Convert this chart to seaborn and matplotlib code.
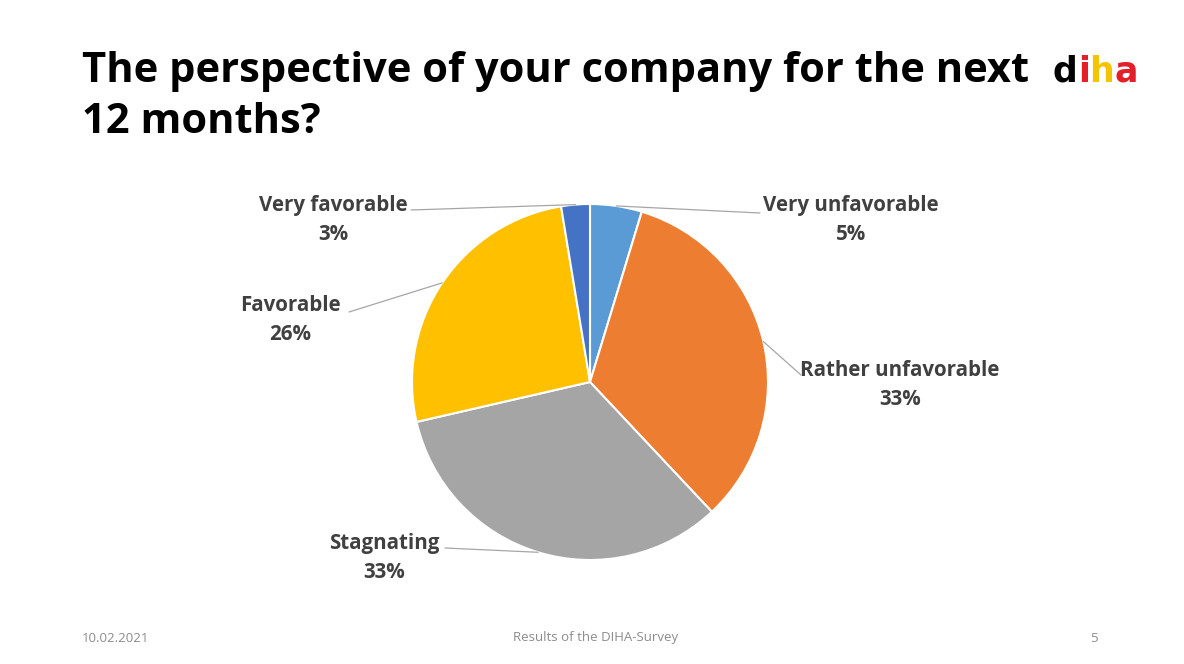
import matplotlib.pyplot as plt
import seaborn as sns
import numpy as np

# Dados
categorias = ["Very unfavorable", "Rather unfavorable", "Stagnating", "Favorable", "Very favorable"]
valores = [4.7, 33.3, 33.4, 26.0, 2.6]
cores = ["#5B9BD5", "#ED7D31", "#A5A5A5", "#FFC000", "#4472C4"]

# Posições dos rótulos (pixels) e fim das linhas de chamada
rotulo_pos = [(851, 220), (900, 385), (384, 558), (290, 320), (333, 220)]
linha_fim = [(760, 213), (801, 375), (445, 548), (349, 312), (411, 210)]

sns.set_theme(style="white")
plt.rcParams["font.family"] = ["Open Sans", "DejaVu Sans"]

W, H = 1184, 664
fig = plt.figure(figsize=(W / 100, H / 100), dpi=100)

cx, cy, r = 590, 382, 178
ax = fig.add_axes([(cx - r) / W, 1 - (cy + r) / H, 2 * r / W, 2 * r / H])
wedges, _ = ax.pie(valores, colors=cores, startangle=90, counterclock=False,
                   radius=1, wedgeprops=dict(edgecolor="white", linewidth=1.5))
ax.set_xlim(-1, 1)
ax.set_ylim(-1, 1)
ax.set_aspect("equal")
ax.axis("off")


def to_data(px, py):
    return (px - cx) / r, (cy - py) / r


for w, nome, v, tp, lf in zip(wedges, categorias, valores, rotulo_pos, linha_fim):
    ang = np.deg2rad((w.theta1 + w.theta2) / 2)
    x0, y0 = np.cos(ang), np.sin(ang)
    x1, y1 = to_data(*lf)
    ax.plot([x0, x1], [y0, y1], color="#A6A6A6", lw=0.9, clip_on=False)
    tx, ty = to_data(*tp)
    ax.text(tx, ty, f"{nome}\n{v:.0f}%", ha="center", va="center",
            fontsize=14.8, fontweight="bold", color="#404040",
            linespacing=1.55, clip_on=False)

# Título
fig.text(82 / W, 1 - 97 / H, "The perspective of your company for the next\n12 months?",
         ha="left", va="center", fontsize=30, fontweight="bold", color="#000000",
         linespacing=1.3)

# Logo "diha"
logo = [("d", "#000000"), ("i", "#E3202A"), ("h", "#F5C400"), ("a", "#E3202A")]
fig.canvas.draw()
renderer = fig.canvas.get_renderer()
x = 1053
for ch, c in logo:
    t = fig.text(x / W, 1 - 82 / H, ch, ha="left", va="baseline", fontsize=25,
                 fontweight="heavy", color=c, family=["DejaVu Sans"])
    x += t.get_window_extent(renderer).width

# Rodapé
fig.text(82 / W, 1 - 638 / H, "10.02.2021", fontsize=9.5, color="#8C8C8C", va="center")
fig.text(596 / W, 1 - 638 / H, "Results of the DIHA-Survey", fontsize=9.5,
         color="#8C8C8C", ha="center", va="center")
fig.text(1094 / W, 1 - 638 / H, "5", fontsize=9.5, color="#8C8C8C", ha="center", va="center")

plt.savefig("out.png", dpi=100)
